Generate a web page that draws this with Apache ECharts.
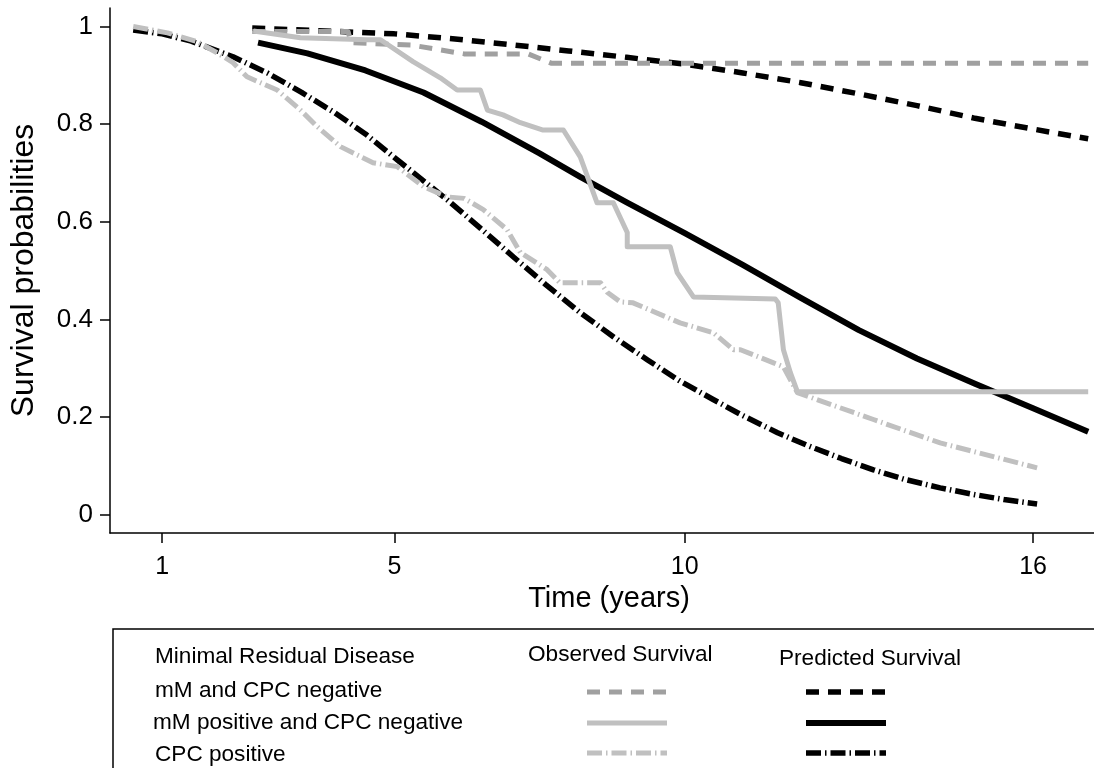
<!DOCTYPE html>
<html>
<head>
<meta charset="utf-8">
<script src="https://cdn.jsdelivr.net/npm/echarts@6/dist/echarts.min.js"></script>
<style>
html,body{margin:0;padding:0;background:#fff;}
#chart{width:1094px;height:768px;}
</style>
</head>
<body>
<div id="chart"></div>
<script>
// ---- Data ----
const xTicks = [1, 5, 10, 16];
const yTicks = [0, 0.2, 0.4, 0.6, 0.8, 1];

// Observed survival: mM and CPC negative
const obsNegT = [2.55, 4.2, 4.25, 5.3, 5.8, 6.2, 7.3, 7.7, 16.95];
const obsNegS = [0.99, 0.99, 0.967, 0.962, 0.952, 0.944, 0.944, 0.925, 0.925];

// Observed survival: mM positive and CPC negative
const obsPosT = [2.57, 3.38, 4.53, 4.76, 5.32, 5.79, 6.08, 6.48, 6.60, 6.87, 7.17, 7.56, 7.91, 8.20, 8.49, 8.77, 9.01, 9.01, 9.75, 9.87, 10.15, 11.56, 11.61, 11.70, 11.82, 11.94, 16.95];
const obsPosS = [0.991, 0.977, 0.973, 0.973, 0.928, 0.895, 0.870, 0.870, 0.829, 0.819, 0.803, 0.788, 0.788, 0.733, 0.639, 0.639, 0.578, 0.549, 0.549, 0.496, 0.446, 0.442, 0.434, 0.338, 0.291, 0.252, 0.252];

// Observed survival: CPC positive
const obsCpcT = [0.5, 1.09, 1.6, 1.95, 2.22, 2.46, 2.98, 3.38, 3.67, 4.07, 4.63, 5.05, 5.5, 5.91, 6.2, 6.53, 6.94, 7.17, 7.63, 7.85, 8.55, 8.67, 8.89, 9.11, 9.92, 10.49, 10.84, 10.96, 11.53, 11.7, 11.94, 13.25, 14.4, 16.07];
const obsCpcS = [1.0, 0.987, 0.969, 0.946, 0.926, 0.897, 0.870, 0.829, 0.795, 0.754, 0.721, 0.713, 0.672, 0.651, 0.648, 0.625, 0.584, 0.537, 0.502, 0.475, 0.475, 0.455, 0.436, 0.434, 0.393, 0.373, 0.338, 0.338, 0.311, 0.303, 0.250, 0.195, 0.147, 0.096];

// Predicted survival: mM and CPC negative
const predNegT = [2.55, 4, 5, 6, 7, 8, 9, 10, 11, 12, 13, 14, 15, 16, 16.95];
const predNegS = [0.997, 0.99, 0.985, 0.975, 0.963, 0.95, 0.937, 0.923, 0.905, 0.885, 0.862, 0.838, 0.812, 0.79, 0.77];

// Predicted survival: mM positive and CPC negative
const predPosT = [2.65, 3.5, 4.5, 5.5, 6.5, 7.5, 8.2, 9, 10, 11, 12, 13, 14, 15, 16, 16.95];
const predPosS = [0.967, 0.945, 0.91, 0.865, 0.805, 0.74, 0.692, 0.64, 0.577, 0.512, 0.444, 0.378, 0.32, 0.268, 0.218, 0.17];

// Predicted survival: CPC positive
const predCpcT = [0.5, 1.0, 1.5, 2.22, 2.81, 3.4, 3.95, 4.5, 5.1, 5.91, 6.5, 7.05, 7.6, 8.2, 8.8, 9.36, 9.9, 10.49, 11.0, 11.6, 12.11, 12.7, 13.25, 13.8, 14.4, 15.0, 15.5, 16.07];
const predCpcS = [0.993, 0.985, 0.97, 0.938, 0.905, 0.865, 0.825, 0.78, 0.722, 0.645, 0.585, 0.528, 0.472, 0.414, 0.362, 0.317, 0.275, 0.236, 0.203, 0.168, 0.142, 0.115, 0.092, 0.072, 0.055, 0.041, 0.031, 0.022];

const groupLabels = ['mM and CPC negative', 'mM positive and CPC negative', 'CPC positive'];
const headerLabels = ['Minimal Residual Disease', 'Observed Survival', 'Predicted Survival'];

// ---- Build ----
const zip = (t, s) => t.map((v, i) => [v, s[i]]);
const FONT = '"Liberation Sans", Arial, sans-serif';

const styles = {
  obsNeg:  { color: '#a0a0a0', width: 5, type: [13, 9] },
  obsPos:  { color: '#c0c0c0', width: 5, type: 'solid' },
  obsCpc:  { color: '#c0c0c0', width: 5, type: [15, 4, 1.5, 4] },
  predNeg: { color: '#000000', width: 5.5, type: [13, 9] },
  predPos: { color: '#000000', width: 6, type: 'solid' },
  predCpc: { color: '#000000', width: 5.5, type: [15, 4, 1.5, 4] }
};

function mk(name, data, st) {
  return {
    name, type: 'line', data, showSymbol: false, symbol: 'none', smooth: false,
    lineStyle: { color: st.color, width: st.width, type: st.type, cap: 'butt', join: 'round' },
    itemStyle: { color: st.color }, silent: true, z: 3
  };
}

const series = [
  mk('pred-neg', zip(predNegT, predNegS), styles.predNeg),
  mk('pred-pos', zip(predPosT, predPosS), styles.predPos),
  mk('pred-cpc', zip(predCpcT, predCpcS), styles.predCpc),
  mk('obs-neg', zip(obsNegT, obsNegS), styles.obsNeg),
  mk('obs-pos', zip(obsPosT, obsPosS), styles.obsPos),
  mk('obs-cpc', zip(obsCpcT, obsCpcS), styles.obsCpc)
];

// legend drawn as graphic table
const LF = '22.6px ' + FONT;
const legendGraphic = [
  { type: 'rect', shape: { x: 113, y: 629, width: 1100, height: 200 },
    style: { fill: 'none', stroke: '#000', lineWidth: 1.5 }, silent: true },
  { type: 'text', style: { x: 155, y: 657, text: headerLabels[0], font: LF, fill: '#000', verticalAlign: 'middle' } },
  { type: 'text', style: { x: 528, y: 655, text: headerLabels[1], font: LF, fill: '#000', verticalAlign: 'middle' } },
  { type: 'text', style: { x: 779, y: 659, text: headerLabels[2], font: LF, fill: '#000', verticalAlign: 'middle' } },
  { type: 'text', style: { x: 155, y: 691, text: groupLabels[0], font: LF, fill: '#000', verticalAlign: 'middle' } },
  { type: 'text', style: { x: 153, y: 723, text: groupLabels[1], font: LF, fill: '#000', verticalAlign: 'middle' } },
  { type: 'text', style: { x: 155, y: 755, text: groupLabels[2], font: LF, fill: '#000', verticalAlign: 'middle' } }
];
const sampleRows = [
  [styles.obsNeg, styles.predNeg, 692],
  [styles.obsPos, styles.predPos, 723],
  [styles.obsCpc, styles.predCpc, 753]
];
sampleRows.forEach(([o, p, y]) => {
  [[o, 587], [p, 806]].forEach(([st, x0]) => {
    legendGraphic.push({
      type: 'line', shape: { x1: x0, y1: y, x2: x0 + 80, y2: y },
      style: { stroke: st.color, lineWidth: st.width, lineDash: st.type === 'solid' ? null : st.type, lineCap: 'butt' },
      silent: true
    });
  });
});

const chart = echarts.init(document.getElementById('chart'), null, { renderer: 'canvas' });
chart.setOption({
  animation: false,
  backgroundColor: '#fff',
  grid: { left: 110, right: 0, top: 8, bottom: 235, containLabel: false },
  xAxis: {
    type: 'value', min: 0.1, max: 17.05,
    name: 'Time (years)', nameLocation: 'middle', nameGap: 50,
    nameTextStyle: { fontSize: 29, color: '#000', fontFamily: FONT, padding: [0, 0, 0, 14] },
    axisLine: { show: true, onZero: false, lineStyle: { color: '#000', width: 1.5 } },
    axisTick: { show: true, length: 10, lineStyle: { color: '#000', width: 1.5 }, customValues: xTicks },
    axisLabel: { show: true, fontSize: 25, color: '#000', fontFamily: FONT, margin: 22, customValues: xTicks,
      formatter: v => String(v) },
    splitLine: { show: false }
  },
  yAxis: {
    type: 'value', min: -0.0375, max: 1.038,
    name: 'Survival probabilities', nameLocation: 'middle', nameGap: 70, nameRotate: 90,
    nameTextStyle: { fontSize: 32, color: '#000', fontFamily: FONT },
    axisLine: { show: true, onZero: false, lineStyle: { color: '#000', width: 1.5 } },
    axisTick: { show: true, length: 10, lineStyle: { color: '#000', width: 1.5 }, customValues: yTicks },
    axisLabel: { show: true, fontSize: 26, color: '#000', fontFamily: FONT, margin: 17, customValues: yTicks,
      formatter: v => (Math.abs(v - 1) < 1e-9 ? '1' : (Math.abs(v) < 1e-9 ? '0' : String(Math.round(v * 10) / 10))) },
    splitLine: { show: false }
  },
  series,
  graphic: legendGraphic
});
</script>
</body>
</html>
